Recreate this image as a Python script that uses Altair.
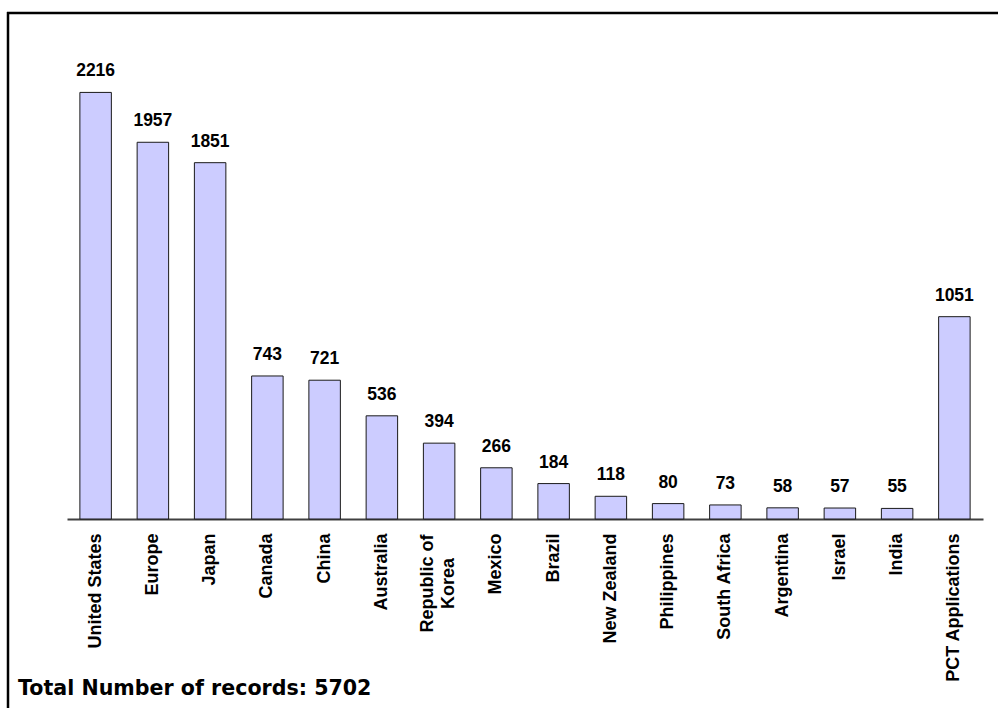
import altair as alt
import pandas as pd

# Patent records by filing office / country
countries = [
    "United States", "Europe", "Japan", "Canada", "China", "Australia",
    "Republic of Korea", "Mexico", "Brazil", "New Zealand", "Philippines",
    "South Africa", "Argentina", "Israel", "India", "PCT Applications",
]
records = [2216, 1957, 1851, 743, 721, 536, 394, 266, 184, 118, 80, 73, 58, 57, 55, 1051]
total_records = 5702

df = pd.DataFrame({"country": countries, "records": records})

FONT = "Liberation Sans"
W, H = 916, 462
LEFT, TOP, RIGHT, BOTTOM = 67, 57, 15, 189

# the two-line label is centred on itself, the others hang from the axis
is_two_line = "datum.value == 'Republic of Korea'"

x_enc = alt.X(
    "country:N",
    sort=countries,
    scale=alt.Scale(paddingInner=0.45, paddingOuter=0.225),
    axis=alt.Axis(
        title=None,
        labelAngle=270,
        labelAlign={"condition": {"test": is_two_line, "value": "center"}, "value": "right"},
        labelBaseline="middle",
        labelPadding={"condition": {"test": is_two_line, "value": 64}, "value": 14},
        labelOffset={"condition": {"test": is_two_line, "value": -11}, "value": 0},
        labelFont=FONT,
        labelFontWeight="bold",
        labelFontSize=18,
        labelColor="#000000",
        labelLineHeight=21,
        labelExpr="datum.value == 'Republic of Korea' ? ['Republic of', 'Korea'] : datum.label",
        ticks=False,
        domainColor="#404040",
        domainWidth=2,
        grid=False,
    ),
)
y_enc = alt.Y("records:Q", scale=alt.Scale(domain=[0, 2400], nice=False), axis=None)

base = alt.Chart(df)

bars = base.mark_bar(fill="#CCCCFF", stroke="#1a1a1a", strokeWidth=1).encode(x=x_enc, y=y_enc)

values = base.mark_text(
    font=FONT, fontWeight="bold", fontSize=17.5, color="#000000",
    baseline="middle", dy=-21,
).encode(x=x_enc, y=y_enc, text="records:Q")

one = alt.Chart(pd.DataFrame({"k": [0]}))

frame_left = one.mark_rule(color="#000000", strokeWidth=2.5).encode(
    x=alt.value(8 - LEFT), y=alt.value(12 - TOP), y2=alt.value(760 - TOP)
)
frame_top = one.mark_rule(color="#000000", strokeWidth=2.5).encode(
    x=alt.value(7 - LEFT), x2=alt.value(1010 - LEFT), y=alt.value(13 - TOP)
)

footer = one.mark_text(
    font="DejaVu Sans", fontWeight="bold", fontSize=20.6, color="#000000",
    align="left", baseline="alphabetic",
).encode(
    x=alt.value(18 - LEFT), y=alt.value(695 - TOP),
    text=alt.value(f"Total Number of records: {total_records}"),
)

chart = (
    alt.layer(bars, values, frame_left, frame_top, footer)
    .properties(
        width=W, height=H,
        autosize=alt.AutoSizeParams(type="none"),
        padding={"left": LEFT, "top": TOP, "right": RIGHT, "bottom": BOTTOM},
        background="#ffffff",
    )
    .configure_view(stroke=None)
)

chart.save("out.html", embed_options={"renderer": "svg", "actions": False})
